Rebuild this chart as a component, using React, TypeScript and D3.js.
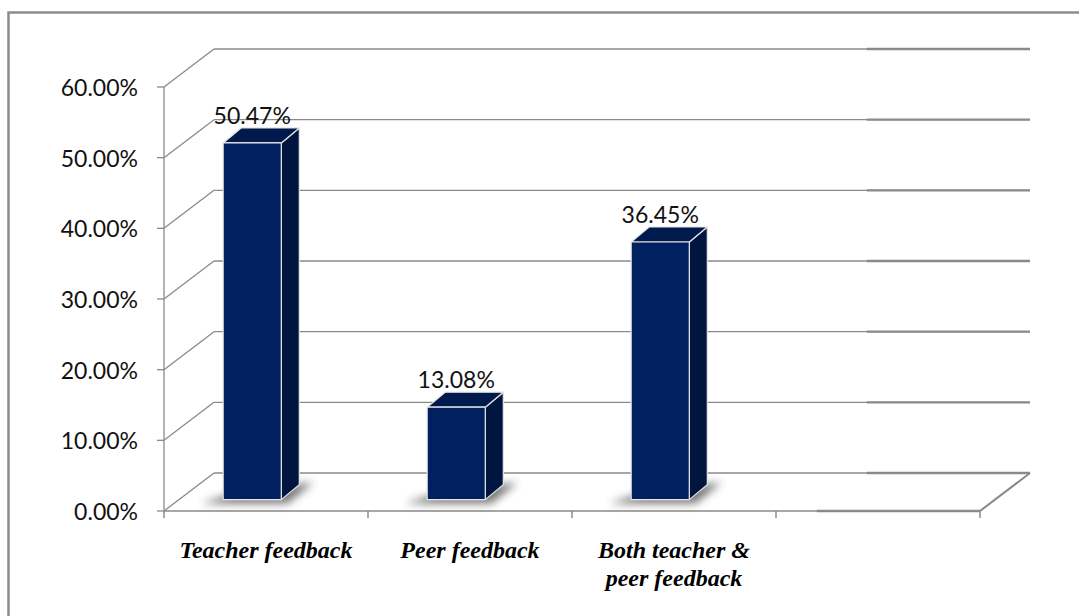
import React from "react";
import * as d3 from "d3";

const categories = ["Teacher feedback", "Peer feedback", "Both teacher & peer feedback", ""];
const categoryLines = [["Teacher feedback"], ["Peer feedback"], ["Both teacher &", "peer feedback"], []];
const values = [0.5047, 0.1308, 0.3645];
const valueLabels = ["50.47%", "13.08%", "36.45%"];
const yTicks = [0, 0.1, 0.2, 0.3, 0.4, 0.5, 0.6];

const W = 1079;
const H = 616;

export default function App() {
  const x0 = 164;
  const x1 = 980;
  const DX = 50;
  const DY = -38;
  const x = d3.scaleBand<string>().domain(categories).range([x0, x1]).padding(0);
  const y = d3.scaleLinear().domain([0, 0.6]).range([511, 87]);
  const fmt = d3.format(".2%");
  const bw = x.bandwidth();

  // bars sit partway into the depth
  const tFront = 0.3;
  const barBase = y(0) + DY * tFront;
  const barH = (v: number) => y(0) - y(v);
  const bdx = 18;
  const bdy = -15;

  const grid = "#8a8a8a";
  const thickStart = x1 + DX - 0.2 * (x1 - x0);

  return (
    <svg width={W} height={H} style={{ position: "absolute", left: 0, top: 0, background: "#fff" }}>
      <defs>
        <filter id="shadow" x="-50%" y="-50%" width="200%" height="200%">
          <feGaussianBlur stdDeviation="4" />
        </filter>
      </defs>
      <rect x={8.5} y={12.5} width={1200} height={800} fill="#fff" stroke="#8c8c8c" strokeWidth={2.5} />

      {/* gridlines with depth */}
      {yTicks.map((t) => {
        const yf = y(t);
        return (
          <g key={t}>
            <line x1={x0} y1={yf} x2={x0 + DX} y2={yf + DY} stroke={grid} strokeWidth={1.3} />
            <line x1={x0 + DX} y1={yf + DY} x2={x1 + DX} y2={yf + DY} stroke={grid} strokeWidth={1.3} />
            <line x1={thickStart} y1={yf + DY} x2={x1 + DX} y2={yf + DY} stroke={grid} strokeWidth={2.3} />
            <line x1={x0 - 7} y1={yf} x2={x0} y2={yf} stroke={grid} strokeWidth={1.3} />
            <text
              x={138}
              y={yf + 9}
              textAnchor="end"
              fontFamily="Lato, 'Noto Sans', sans-serif"
              fontSize={23}
              fill="#111"
            >
              {fmt(t)}
            </text>
          </g>
        );
      })}

      {/* front value axis */}
      <line x1={x0} y1={y(0)} x2={x0} y2={y(0.6)} stroke={grid} strokeWidth={1.3} />
      {/* floor front edge and right side */}
      <line x1={x0} y1={y(0)} x2={x1} y2={y(0)} stroke={grid} strokeWidth={1.3} />
      <line x1={thickStart - DX} y1={y(0)} x2={x1} y2={y(0)} stroke={grid} strokeWidth={2.3} />
      <line x1={x1} y1={y(0)} x2={x1 + DX} y2={y(0) + DY} stroke={grid} strokeWidth={2} />

      {/* category ticks */}
      {[...categories.map((c) => x(c) as number), x1].map((px, i) => (
        <line key={i} x1={px} y1={y(0)} x2={px} y2={y(0) + 7} stroke={grid} strokeWidth={1.5} />
      ))}

      {/* bars */}
      {values.map((v, i) => {
        const bx = (x(categories[i]) as number) + 0.29 * bw;
        const w = 0.285 * bw;
        const top = barBase - barH(v);
        const front = `M${bx},${top}L${bx + w},${top}L${bx + w},${barBase}L${bx},${barBase}Z`;
        const side = `M${bx + w},${top}L${bx + w + bdx},${top + bdy}L${bx + w + bdx},${barBase + bdy}L${bx + w},${barBase}Z`;
        const topFace = `M${bx},${top}L${bx + bdx},${top + bdy}L${bx + w + bdx},${top + bdy}L${bx + w},${top}Z`;
        const shadow = `M${bx - 22},${barBase + 4}L${bx + w + 6},${barBase + 4}L${bx + w + bdx + 14},${barBase + bdy - 2}L${bx + bdx},${barBase + bdy + 6}Z`;
        return (
          <g key={i}>
            <path d={shadow} fill="#4a4a4a" opacity={0.75} filter="url(#shadow)" />
            <path d={side} fill="#001540" stroke="#e6e6e6" strokeWidth={1.2} strokeLinejoin="round" />
            <path d={topFace} fill="#001a4e" stroke="#e6e6e6" strokeWidth={1.2} strokeLinejoin="round" />
            <path d={front} fill="#002060" stroke="#e6e6e6" strokeWidth={1.2} strokeLinejoin="round" />
            <text
              x={bx + w / 2}
              y={top + bdy - 4}
              textAnchor="middle"
              fontFamily="Lato, 'Noto Sans', sans-serif"
              fontSize={23}
              fill="#111"
            >
              {valueLabels[i]}
            </text>
          </g>
        );
      })}

      {/* category labels */}
      {categories.map((c, i) => {
        const cx = (x(c) as number) + bw / 2;
        return (
          <text
            key={i}
            x={cx}
            textAnchor="middle"
            fontFamily="'Liberation Serif', 'Times New Roman', serif"
            fontStyle="italic"
            fontWeight="bold"
            fontSize={24}
            fill="#000"
          >
            {categoryLines[i].map((ln, j) => (
              <tspan key={j} x={cx} y={558 + j * 28}>
                {ln}
              </tspan>
            ))}
          </text>
        );
      })}
    </svg>
  );
}
